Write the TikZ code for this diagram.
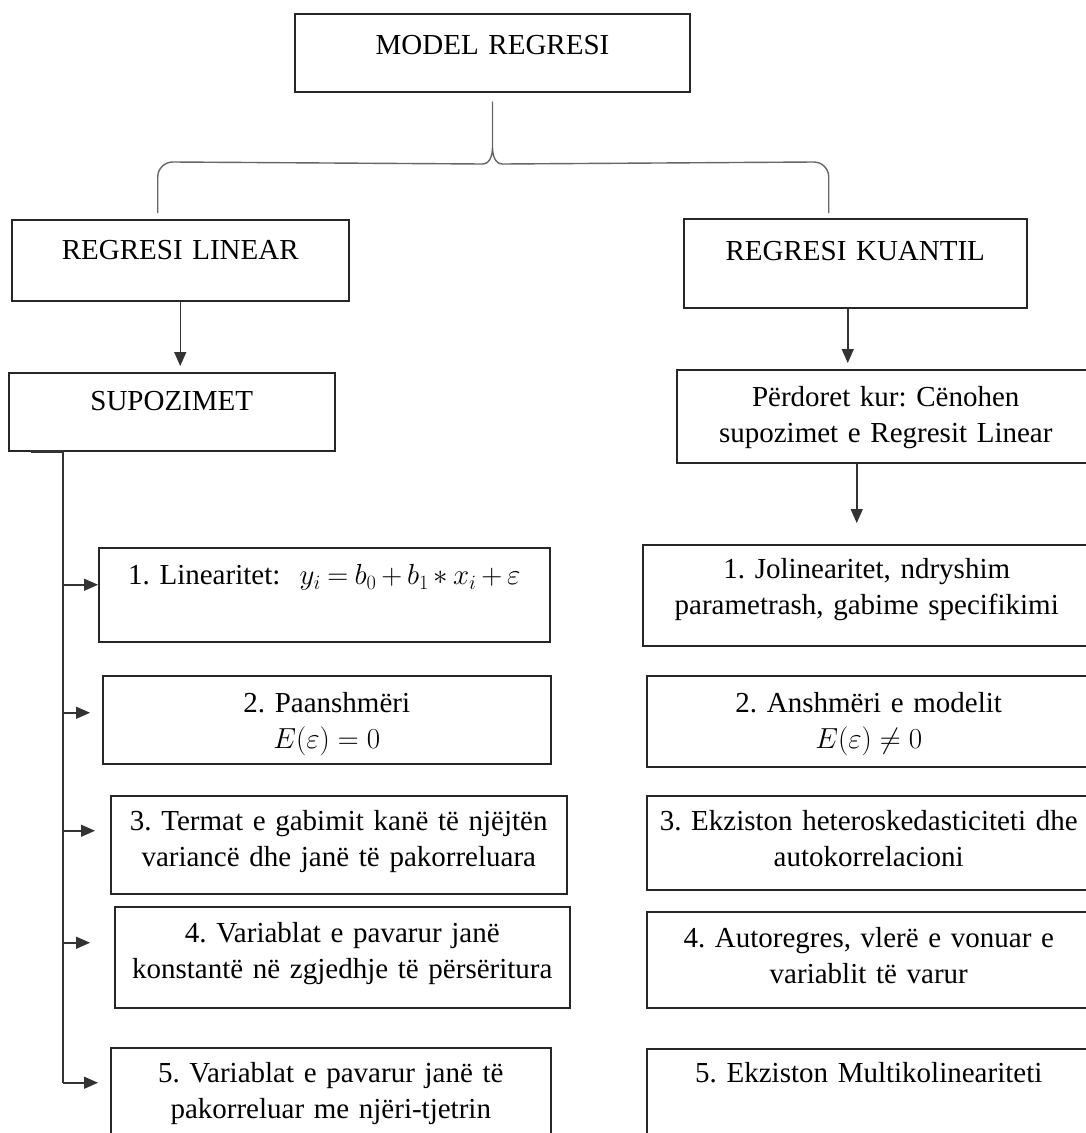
\RequirePackage{fix-cm}
\documentclass[tikz,border=0pt]{standalone}
\usepackage{fontspec}
\setmainfont{Liberation Serif}
\usetikzlibrary{arrows.meta,calc}

\begin{document}
\begin{tikzpicture}[
  x=1pt,
  y=-1pt,
  font=\fontsize{29}{36}\selectfont\frenchspacing,
  >={Triangle[length=14pt,width=12pt]},
  box/.style={draw=black!85, line width=1.5pt, anchor=north west, inner sep=0pt, align=center},
  link/.style={->, draw=black!80, line width=1.5pt},
  trunk/.style={draw=black!80, line width=2.6pt},
  brace/.style={draw=black!60, line width=1.4pt, line join=round}
]
  \path[use as bounding box, fill=white] (0,0) rectangle (1086,1133);
  \clip (0,0) rectangle (1086,1133);

  % top and the two branches
  \node[box, line width=2pt, text width=395pt, text height=40pt, text depth=38pt] (top) at (294,13) {MODEL REGRESI};
  \node[box, text width=337pt, text height=40pt, text depth=41pt] (lin) at (11,219) {REGRESI LINEAR};
  \node[box, text width=343pt, text height=42pt, text depth=47pt] (kua) at (683,218) {REGRESI KUANTIL};

  \node[box, text width=326pt, text height=38pt, text depth=40pt] (sup) at (8,372) {SUPOZIMET};
  \node[box, text width=418pt, text height=37pt, text depth=56pt] (per) at (676,369) {Përdoret kur: Cënohen\\supozimet e Regresit Linear};

  % linear regression assumptions
  \node[box, text width=451pt, text height=37pt, text depth=57pt] (l1) at (98,547) {1. Linearitet:\ \ \mbox{$\medmuskip=3mu\thickmuskip=4mu y_i = b_0 + b_1 * x_i + \varepsilon$}};
  \node[box, text width=448pt, text height=37pt, text depth=51pt] (l2) at (102,675) {2. Paanshmëri\\\mbox{$E(\varepsilon) = 0$}};
  \node[box, text width=456pt, text height=35pt, text depth=63pt] (l3) at (110,795) {3. Termat e gabimit kanë të njëjtën\\variancë dhe janë të pakorreluara};
  \node[box, text width=455pt, text height=36pt, text depth=65pt] (l4) at (114,906) {4. Variablat e pavarur janë\\konstantë në zgjedhje të përsëritura};
  \node[box, text width=440pt, text height=35pt, text depth=80pt] (l5) at (110,1047) {5. Variablat e pavarur janë të\\pakorreluar me njëri-tjetrin};

  % quantile regression cases
  \node[box, text width=448pt, text height=34pt, text depth=67pt] (r1) at (642,544) {1. Jolinearitet, ndryshim\\parametrash, gabime specifikimi};
  \node[box, text width=444pt, text height=37pt, text depth=54pt] (r2) at (646,675) {2. Anshmëri e modelit\\\mbox{$E(\varepsilon) \neq 0$}};
  \node[box, text width=444pt, text height=35pt, text depth=59pt] (r3) at (646,795) {3. Ekziston heteroskedasticiteti dhe\\autokorrelacioni};
  \node[box, text width=444pt, text height=36pt, text depth=60pt] (r4) at (646,911) {4. Autoregres, vlerë e vonuar e\\variablit të varur};
  \node[box, text width=444pt, text height=34pt, text depth=80pt] (r5) at (646,1048) {5. Ekziston Multikolineariteti};

  % brace
  \coordinate (tip) at ([yshift=-9pt]top.south);
  \coordinate (bl) at ([xshift=-22.5pt,yshift=6pt]lin.north);
  \coordinate (br) at ([xshift=-26.5pt,yshift=5pt]kua.north);
  \draw[brace] (bl) -- ++(0,-36) to[out=90,in=180] ++(15,-15)
    -- ($(tip)+(-10,62)$) to[out=0,in=-90] ($(tip)+(0,45)$) -- (tip)
    -- ($(tip)+(0,45)$) to[out=-90,in=180] ($(tip)+(10,62)$)
    -- ($(br)+(-15,-51)$) to[out=0,in=90] ++(15,15) -- (br);

  \draw[link, shorten >=6pt] (lin.south) -- (lin.south |- sup.north);
  \coordinate (k1) at ([xshift=-7.5pt]kua.south);
  \draw[link, shorten >=6pt] (k1) -- (k1 |- per.north);
  \coordinate (p1) at ([xshift=-29pt]per.south);
  \draw[link, shorten >=21pt] (p1) -- (p1 |- r1.north);

  % trunk with branches
  \coordinate (tr) at ([xshift=55pt]sup.south west);
  \draw[trunk] ([xshift=23pt]sup.south west) -- (tr) -- (tr |- l5.base west);
  \foreach \n/\gap in {l1/0pt, l2/12pt, l3/15pt, l4/24pt, l5/12pt}
    \draw[link, shorten >=\gap] (tr |- \n.base west) -- (\n.base west);
\end{tikzpicture}
\end{document}
